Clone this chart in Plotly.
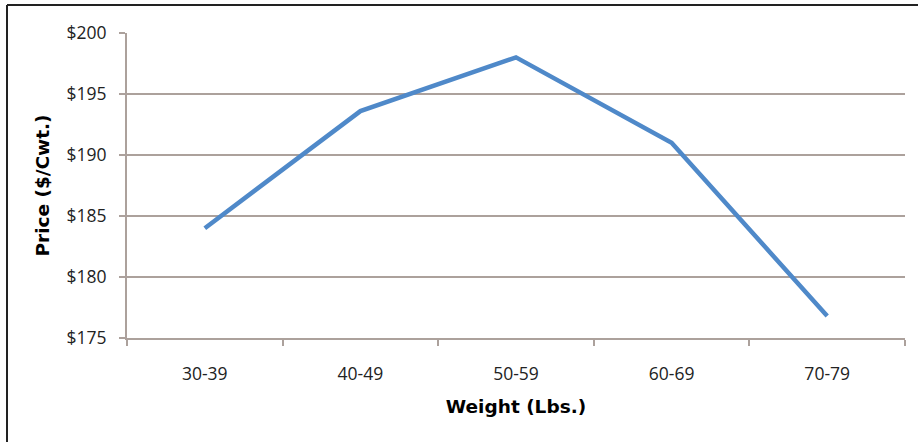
import plotly.graph_objects as go

categories = ["30-39", "40-49", "50-59", "60-69", "70-79"]
prices = [184.0, 193.6, 198.0, 191.0, 176.8]
y_ticks = [175, 180, 185, 190, 195, 200]
y_tick_labels = ["$175", "$180", "$185", "$190", "$195", "$200"]

W, H = 918, 442
L, R, T, B = 127, 13, 33, 104
pw, ph = W - L - R, H - T - B

fig = go.Figure()
fig.add_trace(go.Scatter(
    x=categories, y=prices, mode="lines",
    line=dict(color="#4f89c9", width=4.5),
    showlegend=False, hoverinfo="skip",
))

axis_col = "#aca19c"
fig.update_layout(
    width=W, height=H,
    margin=dict(l=L, r=R, t=T, b=B),
    paper_bgcolor="white", plot_bgcolor="white",
    font=dict(family="Open Sans", color="#222"),
    xaxis=dict(
        type="category", range=[-0.5, 4.5],
        showgrid=False, showline=True, linecolor=axis_col, linewidth=2,
        ticks="outside", ticklen=6, tickcolor=axis_col, tickwidth=1.5,
        tickson="boundaries", ticklabelstandoff=19,
        tickfont=dict(size=17.5, family="Open Sans", color="#222"),
        title=dict(text="<b>Weight (Lbs.)</b>", standoff=16,
                   font=dict(size=18.5, family="DejaVu Sans", color="#000")),
        zeroline=False,
    ),
    yaxis=dict(
        range=[175, 200], tickvals=y_ticks, ticktext=y_tick_labels,
        showgrid=True, gridcolor=axis_col, gridwidth=1.5,
        showline=True, linecolor=axis_col, linewidth=2,
        ticks="outside", ticklen=6, tickcolor=axis_col, tickwidth=1.5,
        ticklabelstandoff=9,
        tickfont=dict(size=17.5, family="Open Sans", color="#222"),
        title=dict(text="<b>Price ($/Cwt.)</b>", standoff=12,
                   font=dict(size=18.5, family="DejaVu Sans", color="#000")),
        zeroline=False,
    ),
)

# frame lines (top and left) of the original figure border
x_left = (7 - L) / pw
y_top = 1 + (T - 5) / ph
y_bot = -(H - T - ph) / ph - 0.01
fig.add_shape(type="line", xref="paper", yref="paper",
              x0=x_left, x1=(W - L) / pw + 0.01, y0=y_top, y1=y_top,
              line=dict(color="#222", width=2))
fig.add_shape(type="line", xref="paper", yref="paper",
              x0=x_left, x1=x_left, y0=y_top, y1=y_bot,
              line=dict(color="#222", width=2))

fig.write_html("out.html")
